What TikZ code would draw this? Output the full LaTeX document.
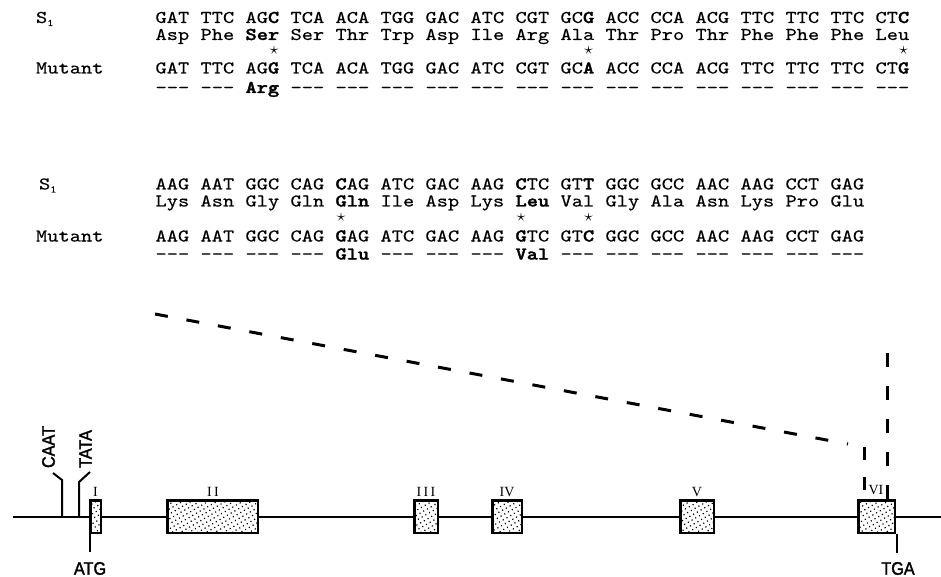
\documentclass[tikz,border=0pt]{standalone}
\usepackage{graphicx}
\usepackage{fontspec}
\usetikzlibrary{patterns.meta}
\newfontfamily\labelsans{Liberation Sans}[UprightFeatures={FakeBold=2}]
\newfontfamily\numserif{Liberation Serif}
\newfontfamily\seqfam{lmmono10-regular.otf}[
  BoldFont=lmmonolt10-bold.otf,
  UprightFeatures={FakeBold=0.3},
  BoldFeatures={FakeBold=1.6}]

% sequence typeface: Latin Modern Mono, widened to a Courier-like pitch
\newcommand\seqsize{\fontsize{18}{18}\selectfont\seqfam}
\newcommand\seqrow[1]{\scalebox{1.1905}[1]{\seqsize #1}}
\newcommand\dsh{-\kern0pt-\kern0pt-}
\newcommand\mut[1]{\textbf{#1}}
\newcommand\sone{S\raisebox{-3pt}{\fontsize{10}{10}\selectfont 1}}

% stippled exon fill
\tikzdeclarepattern{
  name=stipple,
  type=uncolored,
  bounding box={(-1pt,-1pt) and (1pt,1pt)},
  tile size={(4.3pt,4.3pt)},
  tile transformation={rotate=30},
  code={\pgfpathcircle{\pgfpointorigin}{0.85pt}\pgfusepath{fill}}
}

\tikzset{
  seq/.style={anchor=base west, inner sep=0pt, outer sep=0pt},
  starmk/.style={inner sep=0pt, font=\fontsize{18}{18}\selectfont},
  exon/.style={draw, line width=2.5pt, minimum height=32.5pt, inner sep=0pt,
    preaction={fill=white}, pattern=stipple},
  exnum/.style={anchor=base, inner sep=0pt, font=\numserif\fontsize{14}{14}\selectfont},
  site/.style={inner sep=0pt, font=\labelsans\fontsize{18}{18}\selectfont},
  zoomdash/.style={line width=3pt, dash pattern=on 13pt off 19pt},
  wire/.style={line width=2pt}
}

\begin{document}
\begin{tikzpicture}[x=1pt, y=-1pt]
\useasboundingbox (0,0) rectangle (941,577);

% ---------- first block of sequence ----------
\node[seq] (lab1a) at (36,23) {\seqrow{\sone}};
\node[seq] (nt1) at (155.5,23) {\seqrow{GAT TTC AG\mut{C} TCA ACA TGG GAC ATC CGT GC\mut{G} ACC CCA ACG TTC TTC TTC CT\mut{C}}};
\node[seq] (aa1) at (155.5,40) {\seqrow{Asp Phe \mut{Ser} Ser Thr Trp Asp Ile Arg Ala Thr Pro Thr Phe Phe Phe Leu}};
\node[starmk] (st1a) at (274,50.5) {$\star$};
\node[starmk] (st1b) at (588.6,50.5) {$\star$};
\node[starmk] (st1c) at (903.6,50.5) {$\star$};
\node[seq] (lab1b) at (36,73.5) {\seqrow{Mutant}};
\node[seq] (mnt1) at (155.5,73.5) {\seqrow{GAT TTC AG\mut{G} TCA ACA TGG GAC ATC CGT GC\mut{A} ACC CCA ACG TTC TTC TTC CT\mut{G}}};
\node[seq] (maa1) at (155.5,93) {\seqrow{\dsh{} \dsh{} \mut{Arg} \dsh{} \dsh{} \dsh{} \dsh{} \dsh{} \dsh{} \dsh{} \dsh{} \dsh{} \dsh{} \dsh{} \dsh{} \dsh{} \dsh}};

% ---------- second block of sequence ----------
\node[seq] (lab2a) at (39,189.5) {\seqrow{\sone}};
\node[seq] (nt2) at (155.5,189.5) {\seqrow{AAG AAT GGC CAG \mut{C}AG ATC GAC AAG \mut{C}TC GT\mut{T} GGC GCC AAC AAG CCT GAG}};
\node[seq] (aa2) at (155.5,206.5) {\seqrow{Lys Asn Gly Gln \mut{Gln} Ile Asp Lys \mut{Leu} Val Gly Ala Asn Lys Pro Glu}};
\node[starmk] (st2a) at (341.1,217.5) {$\star$};
\node[starmk] (st2b) at (521.1,217.5) {$\star$};
\node[starmk] (st2c) at (588.6,217.5) {$\star$};
\node[seq] (lab2b) at (36,241.5) {\seqrow{Mutant}};
\node[seq] (mnt2) at (155.5,241.5) {\seqrow{AAG AAT GGC CAG \mut{G}AG ATC GAC AAG \mut{G}TC GT\mut{C} GGC GCC AAC AAG CCT GAG}};
\node[seq] (maa2) at (155.5,259.5) {\seqrow{\dsh{} \dsh{} \dsh{} \dsh{} \mut{Glu} \dsh{} \dsh{} \dsh{} \mut{Val} \dsh{} \dsh{} \dsh{} \dsh{} \dsh{} \dsh{} \dsh}};

% ---------- gene map ----------
\coordinate (lineL) at (13,516.5);
\coordinate (lineR) at (941,516.5);
\draw[wire] (lineL) -- (lineR);

\node[exon, minimum width=10.5pt] (e1) at (95.5,516.5) {};
\node[exon, minimum width=90.5pt] (e2) at (212.5,516.5) {};
\node[exon, minimum width=23.5pt] (e3) at (426,516.5) {};
\node[exon, minimum width=29.5pt] (e4) at (507,516.5) {};
\node[exon, minimum width=33.5pt] (e5) at (697,516.5) {};
\node[exon, minimum width=36.5pt] (e6) at (876.5,516.5) {};

\node[exnum] (n1) at (95.5,496) {I};
\node[exnum] (n2) at (213,496) {I\,I};
\node[exnum] (n3) at (426,496) {I\,I\,I};
\node[exnum] (n4) at (507,496) {IV};
\node[exnum] (n5) at (697,496) {V};
\node[exnum] (n6) at (876,494) {VI};

% promoter elements
\node[site, rotate=90] (caat) at (48.5,447) {\scalebox{0.9}[1]{CAAT}};
\node[site, rotate=90] (tata) at (85.5,449) {\scalebox{0.9}[1]{TATA}};
\coordinate (caatfoot) at (62,516.5);
\coordinate (tatafoot) at (79,516.5);
\draw[wire] (caatfoot) -- ++(0,-36.5) -- ++(-9,-7);
\draw[wire] (tatafoot) -- ++(0,-34.5) -- ++(11,-10);

% start and stop codons
\node[site] (atg) at (90,568.5) {\scalebox{0.9}[1]{ATG}};
\node[site] (tga) at (898,568.5) {\scalebox{0.9}[1]{TGA}};
\draw[wire] (atg.north |- e1.south) ++(-0.5,0) -- ++(0,18);
\draw[wire] (e6.south east) ++(0.5,0) -- ++(0,19);

% zoom lines from exon VI up to the sequence
\coordinate (zl0) at (155,314);
\coordinate (zl1) at (848,444);
\coordinate (zl2) at (864,447);
\coordinate (zl3) at (864,490);
\coordinate (zr0) at (887,499);
\coordinate (zr1) at (887,352);
\draw[zoomdash] (zl0) -- (zl1);
\draw[line width=3pt, dash pattern=on 13pt off 17pt] (zl3) -- (zl2);
\draw[line width=3pt, dash pattern=on 14pt off 19pt] (zr0) -- (zr1);
\end{tikzpicture}
\end{document}
